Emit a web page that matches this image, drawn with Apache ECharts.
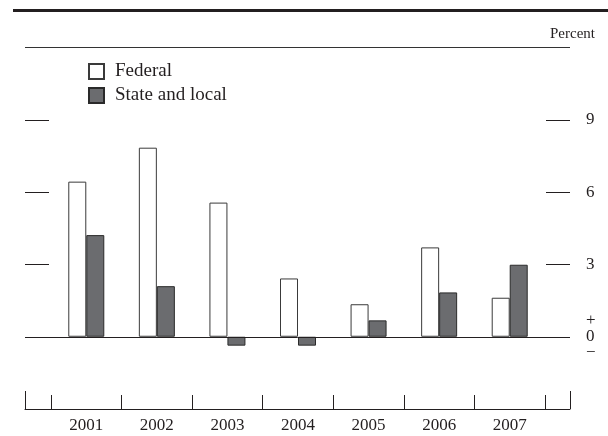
<!DOCTYPE html>
<html>
<head>
<meta charset="utf-8">
<script src="https://cdn.jsdelivr.net/npm/echarts@6/dist/echarts.min.js"></script>
<style>html,body{margin:0;padding:0;background:#fff;}#c{width:608px;height:436px;}</style>
</head>
<body>
<div id="c"></div>
<script>
const years = ['2001','2002','2003','2004','2005','2006','2007'];
const federal = [6.44, 7.85, 5.57, 2.42, 1.35, 3.71, 1.62];
const stateLocal = [4.22, 2.1, -0.37, -0.37, 0.68, 1.84, 2.99];
const yTicks = [-3, 0, 3, 6, 9];

const FONT = '"Liberation Serif", "DejaVu Serif", serif';
const INK = '#231f20';
const chart = echarts.init(document.getElementById('c'), null, {renderer: 'canvas'});
chart.setOption({
  animation: false,
  backgroundColor: '#fff',
  title: {
    text: 'Percent', right: 13, top: 27, padding: 0,
    textStyle: {fontFamily: FONT, fontSize: 15, fontWeight: 'normal', color: INK}
  },
  graphic: [
    {type: 'line', shape: {x1: 13, y1: 10.5, x2: 608, y2: 10.5}, style: {stroke: INK, lineWidth: 3}},
    {type: 'line', shape: {x1: 25, y1: 47.5, x2: 570, y2: 47.5}, style: {stroke: '#333', lineWidth: 1.2}}
  ],
  legend: {
    data: ['Federal', 'State and local'],
    orient: 'vertical', left: 88, top: 62, padding: 0,
    icon: 'rect',
    itemWidth: 15, itemHeight: 15, itemGap: 5,
    textStyle: {fontFamily: FONT, fontSize: 19, color: INK, padding: [0, 0, 0, 6]}
  },
  grid: [
    {left: 25, right: 38, top: 120, bottom: 27},
    {left: 51, right: 63, top: 120, bottom: 27}
  ],
  xAxis: [
    {
      gridIndex: 0, type: 'category', data: ['', ''], boundaryGap: false,
      axisLine: {show: true, onZero: false, lineStyle: {color: INK, width: 1}},
      axisTick: {show: true, inside: true, length: 18, lineStyle: {color: INK}},
      axisLabel: {show: false}, splitLine: {show: false}
    },
    {
      gridIndex: 1, type: 'category', data: years, boundaryGap: true,
      axisLine: {show: true, onZero: false, lineStyle: {color: INK, width: 1}},
      axisTick: {show: true, inside: true, length: 14, lineStyle: {color: INK}},
      axisLabel: {fontFamily: FONT, fontSize: 17, color: INK, margin: 8},
      splitLine: {show: false}
    }
  ],
  yAxis: [
    {
      gridIndex: 0, type: 'value', position: 'left', min: -3, max: 9, interval: 3,
      axisLine: {show: false},
      axisTick: {show: true, inside: true, length: 24, lineStyle: {color: INK}},
      axisLabel: {show: false}, splitLine: {show: false}
    },
    {
      gridIndex: 0, type: 'value', position: 'right', min: -3, max: 9, interval: 3,
      axisLine: {show: false},
      axisTick: {show: true, inside: true, length: 24, lineStyle: {color: INK}},
      axisLabel: {
        fontFamily: FONT, fontSize: 17, color: INK, margin: 16, lineHeight: 16,
        formatter: function (v) {
          if (v === 0) return '+\n0\n\u2212';
          return yTicks.indexOf(v) >= 0 && v > 0 ? String(v) : '';
        }
      },
      splitLine: {show: false}
    },
    {
      gridIndex: 1, type: 'value', min: -3, max: 9, interval: 3, show: false,
      splitLine: {show: false}
    }
  ],
  series: [
    {
      name: 'zero', type: 'line', xAxisIndex: 0, yAxisIndex: 0, data: [],
      silent: true,
      markLine: {
        silent: true, symbol: 'none', label: {show: false},
        lineStyle: {color: INK, width: 1, type: 'solid'},
        data: [{yAxis: 0}]
      }
    },
    {
      name: 'Federal', type: 'bar', xAxisIndex: 1, yAxisIndex: 2, data: federal,
      barWidth: 18, barGap: '0%',
      itemStyle: {color: '#ffffff', borderColor: '#3a3a3a', borderWidth: 1}
    },
    {
      name: 'State and local', type: 'bar', xAxisIndex: 1, yAxisIndex: 2, data: stateLocal,
      barWidth: 18, barGap: '0%',
      itemStyle: {color: '#6b6c6f', borderColor: '#2a2a2a', borderWidth: 1}
    }
  ]
});
</script>
</body>
</html>
